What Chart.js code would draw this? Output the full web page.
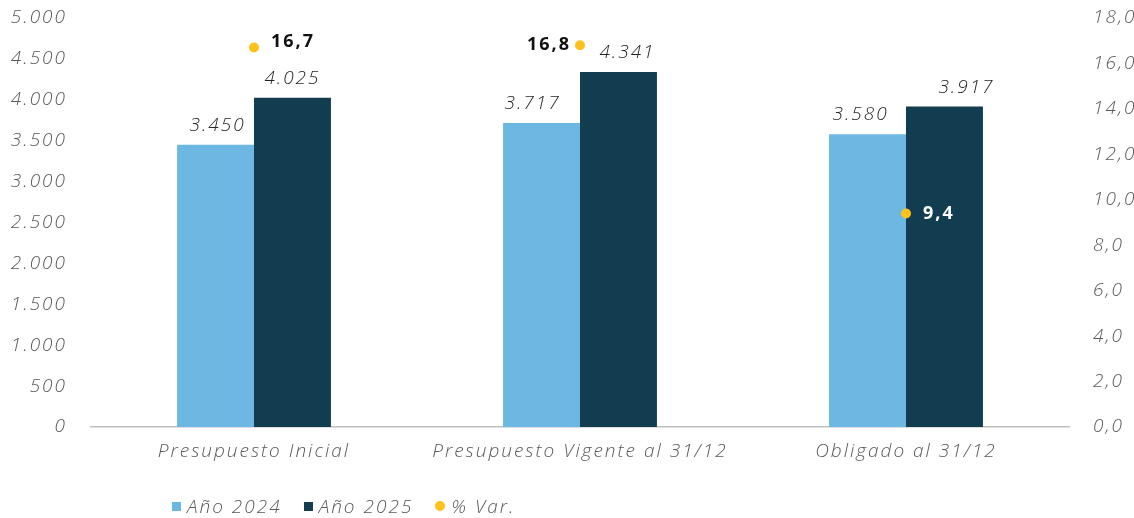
<!DOCTYPE html>
<html>
<head>
<meta charset="utf-8">
<script src="https://cdn.jsdelivr.net/npm/chart.js@4.4.1/dist/chart.umd.min.js"></script>
<style>
  body{margin:0;background:#fff;font-family:"Open Sans",sans-serif;}
  #wrap{position:relative;width:1134px;height:518px;}
  #legend{position:absolute;left:172px;top:493px;display:flex;gap:22px;font-style:italic;font-weight:300;font-size:19px;letter-spacing:2px;color:#595959;}
  #legend span.it{display:flex;align-items:center;}
  #legend i{display:inline-block;width:9px;height:9px;margin-right:6px;}
</style>
</head>
<body>
<div id="wrap">
  <canvas id="grafico" width="1134" height="518"></canvas>
  <div id="legend"></div>
</div>
<script>
// datos
const categorias = ['Presupuesto Inicial', 'Presupuesto Vigente al 31/12', 'Obligado al 31/12'];
const anio2024 = [3450, 3717, 3580];
const anio2025 = [4025, 4341, 3917];
const variacion = [16.7, 16.8, 9.4];
const ticksIzq = [0, 500, 1000, 1500, 2000, 2500, 3000, 3500, 4000, 4500, 5000];
const ticksDer = [0, 2, 4, 6, 8, 10, 12, 14, 16, 18];

const celeste = '#6cb8e2';
const azul = '#123d50';
const amarillo = '#fcc21b';
const gris = '#595959';
const fuente = 'Open Sans';
const espacio = '2px';

const miles = v => String(v).replace(/\B(?=(\d{3})+(?!\d))/g, '.');
const dec = v => v.toFixed(1).replace('.', ',');

// tipografia ancha: espaciado entre letras en todo el canvas
const espaciado = {
  id: 'espaciado',
  beforeUpdate(chart){ chart.ctx.letterSpacing = espacio; },
  beforeDraw(chart){ chart.ctx.letterSpacing = espacio; }
};

// etiquetas de datos (sin plugin externo)
const ajuste = [[[2, 0], [0, 0]], [[-9, 0], [9, 0]], [[-7, 0], [22, 0]]];
const etiquetas = {
  id: 'etiquetas',
  afterDatasetsDraw(chart){
    const ctx = chart.ctx;
    ctx.save();
    ctx.letterSpacing = espacio;
    [0, 1].forEach(i => {
      chart.getDatasetMeta(i).data.forEach((bar, j) => {
        ctx.font = 'italic 300 19px "' + fuente + '"';
        ctx.fillStyle = '#262626';
        ctx.textAlign = 'center';
        ctx.textBaseline = 'alphabetic';
        const a = ajuste[j][i];
        ctx.fillText(miles(chart.data.datasets[i].data[j]), bar.x + a[0], bar.y - 14 + a[1]);
      });
    });
    const pos = ['right', 'left', 'right'];
    chart.getDatasetMeta(2).data.forEach((p, j) => {
      ctx.font = 'bold 18px "' + fuente + '"';
      ctx.textBaseline = 'middle';
      ctx.fillStyle = j == 2 ? '#ffffff' : '#111111';
      const t = dec(variacion[j]);
      if (pos[j] == 'right') { ctx.textAlign = 'left'; ctx.fillText(t, p.x + 17, p.y - (j == 2 ? 0 : 6)); }
      else { ctx.textAlign = 'right'; ctx.fillText(t, p.x - 9, p.y); }
    });
    ctx.restore();
  }
};

const tickFont = { family: fuente, style: 'italic', weight: 300, size: 19 };

const grafico = new Chart(document.getElementById('grafico'), {
  type: 'bar',
  data: {
    labels: categorias,
    datasets: [
      { label: 'Año 2024', data: anio2024, backgroundColor: celeste, yAxisID: 'y', order: 2 },
      { label: 'Año 2025', data: anio2025, backgroundColor: azul, yAxisID: 'y', order: 2 },
      { label: '% Var.', type: 'line', data: variacion, yAxisID: 'y1', showLine: false,
        pointRadius: 5, pointHoverRadius: 5, pointBackgroundColor: amarillo, pointBorderWidth: 0, borderColor: amarillo, order: 1 }
    ]
  },
  options: {
    responsive: false,
    animation: false,
    layout: { padding: { top: 18, bottom: 0, left: 0, right: 0 } },
    categoryPercentage: 0.472,
    barPercentage: 1,
    plugins: { legend: { display: false }, tooltip: { enabled: false } },
    scales: {
      x: {
        grid: { display: false, drawTicks: false },
        border: { color: '#bfbfbf', width: 1.5 },
        ticks: { color: gris, font: { family: fuente, style: 'italic', weight: 300, size: 19 }, padding: 13 },
        afterFit: s => { s.height = 91; s.paddingLeft = 0; s.paddingRight = 0; }
      },
      y: {
        position: 'left', min: 0, max: 5000,
        afterBuildTicks: s => { s.ticks = ticksIzq.map(v => ({ value: v })); },
        grid: { display: false }, border: { display: false },
        ticks: { color: gris, font: tickFont, padding: 16, callback: v => miles(v) },
        afterFit: s => { s.width = 91; s.paddingTop = 0; s.paddingBottom = 0; }
      },
      y1: {
        position: 'right', min: 0, max: 18,
        afterBuildTicks: s => { s.ticks = ticksDer.map(v => ({ value: v })); },
        grid: { display: false }, border: { display: false },
        ticks: { color: gris, font: tickFont, padding: 16, callback: v => dec(v) },
        afterFit: s => { s.width = 65; s.paddingTop = 0; s.paddingBottom = 0; }
      }
    }
  },
  plugins: [espaciado, etiquetas]
});

// leyenda
const ley = document.getElementById('legend');
grafico.data.datasets.forEach(d => {
  const it = document.createElement('span');
  it.className = 'it';
  const m = document.createElement('i');
  m.style.background = d.type == 'line' ? amarillo : d.backgroundColor;
  if (d.type == 'line') { m.style.borderRadius = '50%'; m.style.width = '10px'; m.style.height = '10px'; }
  it.appendChild(m);
  it.appendChild(document.createTextNode(d.label));
  ley.appendChild(it);
});
</script>
</body>
</html>
